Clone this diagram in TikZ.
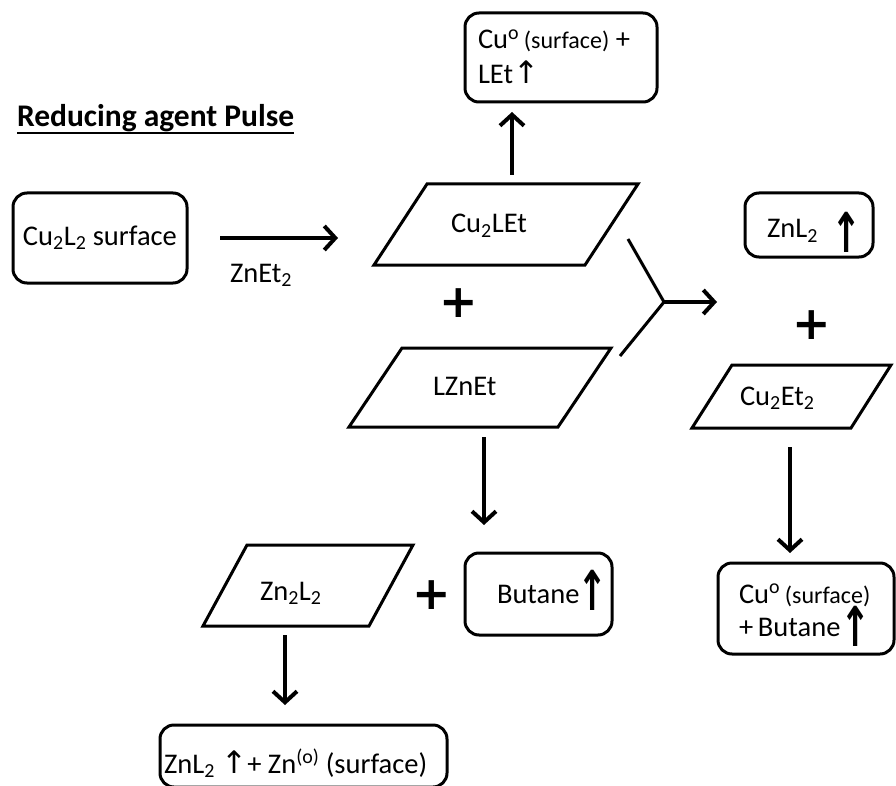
\documentclass[tikz,border=0pt]{standalone}
\usepackage{fontspec}
\setmainfont{Carlito}
\newfontfamily\dvfont{DejaVu Sans}
\usetikzlibrary{arrows.meta}
\newcommand\slantbox[2]{\draw[line width=3pt, line join=miter] ([xshift=#2]#1.north west) -- (#1.north east) -- ([xshift=-#2]#1.south east) -- (#1.south west) -- cycle;}
\newcommand\thinup{{\dvfont\fontsize{31}{34}\selectfont ↑}}
\newcommand\boldup{\scalebox{0.72}[1.1]{↑}}
\begin{document}
\begin{tikzpicture}[x=1pt,y=-1pt,
  every node/.style={inner sep=0pt, outer sep=0pt, font=\fontsize{28.5}{34}\selectfont},
  rbox/.style={draw, line width=3pt, rounded corners=14pt},
  pbox/.style={},
  txt/.style={anchor=base west},
  arr/.style={line width=4pt, -{Straight Barb[length=11pt,width=24pt]}},
  plus/.style={font=\dvfont\bfseries\fontsize{46}{46}\selectfont},
  bigup/.style={font=\dvfont\bfseries\fontsize{50}{50}\selectfont}]
\useasboundingbox (0,0) rectangle (896,786);
\fill[white] (0,0) rectangle (896,786);

% title
\node[txt, font=\bfseries\fontsize{31.5}{36}\selectfont] (title) at (17,127) {Reducing agent Pulse};
\draw[line width=2pt] ([yshift=-6pt]title.base west) -- ([yshift=-6pt]title.base east);

% rounded boxes
\node[rbox, minimum width=192, minimum height=89] (top) at (561,57.5) {};
\node[rbox, minimum width=174, minimum height=90] (cul) at (100,238) {};
\node[rbox, minimum width=128, minimum height=64] (znl) at (809,225) {};
\node[rbox, minimum width=176, minimum height=91] (cub) at (806,608.5) {};
\node[rbox, minimum width=147, minimum height=82] (but) at (538.5,594) {};
\node[rbox, minimum width=287, minimum height=62] (bot) at (303.5,756) {};

% parallelograms
\node[pbox, minimum width=264, minimum height=81] (cle) at (506,224.5) {};
\node[pbox, minimum width=262, minimum height=79] (lze) at (480,387.5) {};
\node[pbox, minimum width=210, minimum height=81] (zn2) at (308,585.5) {};
\node[pbox, minimum width=199, minimum height=63] (ce2) at (791.5,396.5) {};
\slantbox{cle}{53pt}
\slantbox{lze}{53pt}
\slantbox{zn2}{44pt}
\slantbox{ce2}{40pt}

% texts
\node[txt] (t1a) at (478,49) {Cu\textsuperscript{o}\,{\fontsize{24}{28}\selectfont(surface)} +};
\node[txt] (t1b) at (478,84) {LEt\thinup};
\node[txt] (t2) at (23,245) {Cu\textsubscript{2}L\textsubscript{2} surface};
\node[txt] (t3) at (230,282) {ZnEt\textsubscript{2}};
\node[txt] (t4) at (451,233) {Cu\textsubscript{2}LEt};
\node[txt] (t5) at (433,395) {LZnEt};
\node[txt] (t6) at (767,238) {ZnL\textsubscript{2}};
\node[txt] (t7) at (740,405) {Cu\textsubscript{2}Et\textsubscript{2}};
\node[txt] (t8) at (260,600) {Zn\textsubscript{2}L\textsubscript{2}};
\node[txt] (t9) at (497,603) {Butane};
\node[txt] (t10a) at (739,603) {Cu\textsuperscript{o}\,{\fontsize{24}{28}\selectfont(surface)}};
\node[txt] (t10b) at (739,636) {+\,Butane};
\node[txt] (t11) at (164,773) {ZnL\textsubscript{2} \thinup+ Zn\textsuperscript{(o)} (surface)};

% bold up arrows
\node[bigup] (u1) at (847,232.5) {\boldup};
\node[bigup] (u2) at (593,590.5) {\boldup};
\node[bigup] (u3) at (856,626.5) {\boldup};

% plus signs
\node[plus] (p1) at (459,303) {+};
\node[plus] (p2) at (812,325) {+};
\node[plus] (p3) at (432,595) {+};

% arrows
\draw[arr] ([xshift=6pt,yshift=9pt]cle.north) -- ([xshift=-49pt,yshift=-10pt]top.south);
\draw[arr] ([xshift=33pt]cul.east) -- ([xshift=151pt]cul.east);
\draw[arr] ([xshift=4pt,yshift=-10pt]lze.south) -- ([xshift=-54.5pt,yshift=28pt]but.north);
\draw[arr] ([xshift=-1.5pt,yshift=-19pt]ce2.south) -- ([xshift=-16pt,yshift=10pt]cub.north);
\draw[arr] ([xshift=-23pt,yshift=-9pt]zn2.south) -- ([xshift=-18.5pt,yshift=20pt]bot.north);

% merging arrow
\coordinate (m) at (664,302);
\coordinate (ma) at (628,239);
\coordinate (mb) at (620,356);
\coordinate (me) at (717,302);
\draw[line width=3pt] (ma) -- (m) -- (mb);
\draw[arr] (m) -- (me);
\end{tikzpicture}
\end{document}
